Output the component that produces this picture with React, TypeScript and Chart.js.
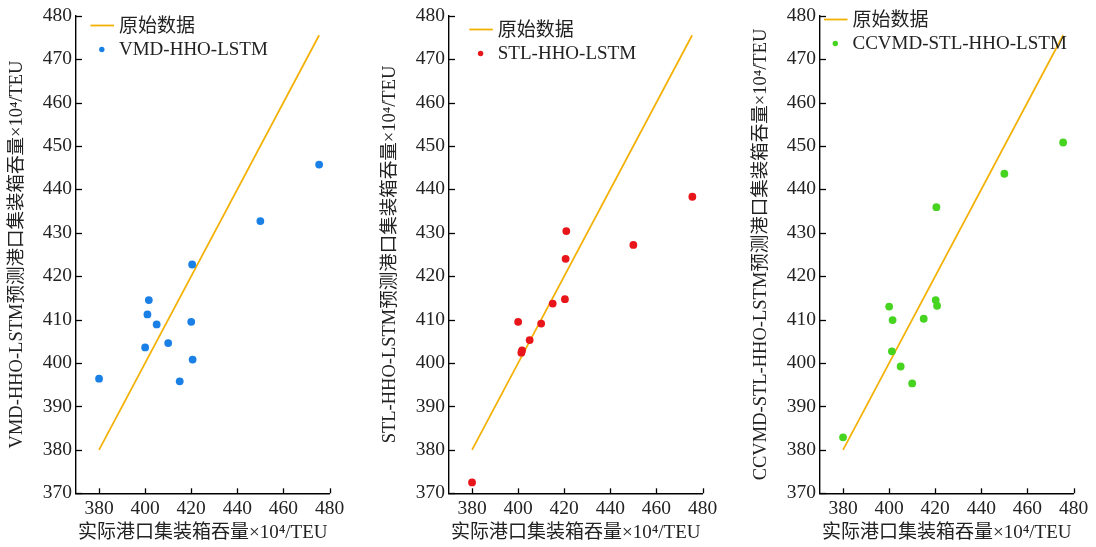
import React, { useEffect, useRef } from 'react';
import { Chart, registerables } from 'chart.js';

Chart.register(...registerables);

// ---------- data ----------
const xTicks = [380, 400, 420, 440, 460, 480];
const yTicks = [370, 380, 390, 400, 410, 420, 430, 440, 450, 460, 470, 480];
const refLabel = '原始数据';
const refLineX = [380, 475.5];
const refLineY = [380, 475.5];

const vmdName = 'VMD-HHO-LSTM';
const vmdActual = [380, 400, 401, 401.6, 405, 410, 415, 420, 420.4, 420.6, 450, 475.5];
const vmdPred = [396.4, 403.6, 411.2, 414.5, 408.9, 404.6, 395.8, 409.5, 422.7, 400.8, 432.7, 445.7];

const stlName = 'STL-HHO-LSTM';
const stlActual = [380, 400, 401.4, 401.7, 405, 410, 415, 420.3, 420.6, 420.9, 450, 475.6];
const stlPred = [372.5, 409.5, 402.4, 402.9, 405.3, 409.1, 413.7, 414.7, 424.0, 430.4, 427.2, 438.3];

const ccName = 'CCVMD-STL-HHO-LSTM';
const ccActual = [380, 400, 401.2, 401.5, 405, 410, 415, 420.2, 420.5, 420.8, 450, 475.5];
const ccPred = [382.9, 413.0, 402.7, 409.9, 399.2, 395.3, 410.2, 414.5, 435.9, 413.2, 443.6, 450.8];

const xTitle = '实际港口集装箱吞量×10⁴/TEU';
const yTitleSuffix = '预测港口集装箱吞量×10⁴/TEU';

// ---------- styles ----------
const FONT = '"Liberation Serif", "Times New Roman", "Noto Sans CJK SC", serif';
const TEXT = '#222';
const ORANGE = '#f4b000';

const panels = [
  { name: vmdName, xs: vmdActual, ys: vmdPred, color: '#1a80e6', left: 0, lx: 90.5, ly: 25.5 },
  { name: stlName, xs: stlActual, ys: stlPred, color: '#e8161b', left: 373, lx: 96.3, ly: 29.5 },
  { name: ccName, xs: ccActual, ys: ccPred, color: '#46d420', left: 744, lx: 80, ly: 19.5 },
];

const W = 372;
const H = 547;

function Panel({ idx }: { idx: number }) {
  const ref = useRef<HTMLCanvasElement>(null);
  const p = panels[idx];

  useEffect(() => {
    const canvas = ref.current!;

    const innerTicks = {
      id: 'innerTicks',
      afterDraw(chart: any) {
        const { ctx, chartArea } = chart;
        const xs = chart.scales.x;
        const ys = chart.scales.y;
        ctx.save();
        ctx.strokeStyle = '#000';
        ctx.lineWidth = 1.3;
        xs.ticks.forEach((t: any) => {
          const px = Math.round(xs.getPixelForValue(t.value)) + 0.5;
          ctx.beginPath();
          ctx.moveTo(px, chartArea.bottom);
          ctx.lineTo(px, chartArea.bottom - 5);
          ctx.stroke();
        });
        ys.ticks.forEach((t: any) => {
          const py = Math.round(ys.getPixelForValue(t.value)) + 0.5;
          ctx.beginPath();
          ctx.moveTo(chartArea.left, py);
          ctx.lineTo(chartArea.left + 6, py);
          ctx.stroke();
        });
        ctx.restore();
      },
    };

    const sketchLegend = {
      id: 'sketchLegend',
      afterDraw(chart: any) {
        const { ctx } = chart;
        const ds = chart.data.datasets;
        const lx = p.lx;
        const ly = p.ly;
        const gap = 24;
        ctx.save();
        ctx.font = `19px ${FONT}`;
        ctx.fillStyle = TEXT;
        ctx.textBaseline = 'middle';
        ctx.textAlign = 'left';
        // line item
        ctx.strokeStyle = ds[1].borderColor;
        ctx.lineWidth = 1.8;
        ctx.beginPath();
        ctx.moveTo(lx, ly);
        ctx.lineTo(lx + 23.5, ly);
        ctx.stroke();
        ctx.fillText(ds[1].label, lx + 28.5, ly + 1.5);
        // point item
        ctx.fillStyle = ds[0].backgroundColor;
        ctx.beginPath();
        ctx.arc(lx + 11.3, ly + gap, 2.7, 0, Math.PI * 2);
        ctx.fill();
        ctx.fillStyle = TEXT;
        ctx.fillText(ds[0].label, lx + 28.5, ly + gap + 1);
        ctx.restore();
      },
    };

    const chart = new Chart(canvas, {
      type: 'scatter',
      data: {
        datasets: [
          {
            label: p.name,
            data: p.xs.map((x, i) => ({ x, y: p.ys[i] })),
            backgroundColor: p.color,
            borderColor: p.color,
            borderWidth: 0,
            pointRadius: 3.9,
            pointHoverRadius: 3.9,
            order: 1,
          },
          {
            label: refLabel,
            data: refLineX.map((x, i) => ({ x, y: refLineY[i] })),
            showLine: true,
            borderColor: ORANGE,
            backgroundColor: ORANGE,
            borderWidth: 1.7,
            pointRadius: 0,
            order: 2,
          } as any,
        ],
      },
      options: {
        responsive: false,
        animation: false,
        devicePixelRatio: 1,
        layout: { padding: { top: 15, right: 42.5, left: 0, bottom: 0 } },
        plugins: {
          legend: { display: false },
          tooltip: { enabled: false },
        },
        scales: {
          x: {
            type: 'linear',
            min: 370,
            max: 480,
            afterBuildTicks: (s: any) => {
              s.ticks = xTicks.map((v) => ({ value: v }));
            },
            afterFit: (s: any) => {
              s.height = H - 493.3;
            },
            grid: { display: false, drawTicks: false },
            border: { display: true, color: '#000', width: 1.4 },
            ticks: {
              color: TEXT,
              font: { family: FONT, size: 19.5 },
              padding: 4,
              maxRotation: 0,
              autoSkip: false,
            },
            title: {
              display: true,
              text: xTitle,
              color: TEXT,
              font: { family: FONT, size: 19 },
              padding: { top: 0, bottom: 3 },
            },
          },
          y: {
            type: 'linear',
            min: 370,
            max: 480,
            afterBuildTicks: (s: any) => {
              s.ticks = yTicks.map((v) => ({ value: v }));
            },
            afterFit: (s: any) => {
              s.width = 76;
            },
            grid: { display: false, drawTicks: false },
            border: { display: true, color: '#000', width: 1.4 },
            ticks: {
              color: TEXT,
              font: { family: FONT, size: 19.5 },
              padding: 4,
              autoSkip: false,
            },
            title: {
              display: true,
              text: p.name + yTitleSuffix,
              color: TEXT,
              font: { family: FONT, size: 18.5 },
              padding: { top: 6, bottom: 0 },
            },
          },
        },
      },
      plugins: [innerTicks, sketchLegend],
    } as any);

    return () => chart.destroy();
  }, [idx]);

  return (
    <canvas
      ref={ref}
      width={W}
      height={H}
      style={{ position: 'absolute', left: p.left, top: 0, width: W, height: H }}
    />
  );
}

export default function App() {
  return (
    <div
      style={{
        position: 'absolute',
        left: 0,
        top: 0,
        width: 1096,
        height: 547,
        background: '#fff',
        overflow: 'hidden',
      }}
    >
      {panels.map((_, i) => (
        <Panel key={i} idx={i} />
      ))}
    </div>
  );
}
